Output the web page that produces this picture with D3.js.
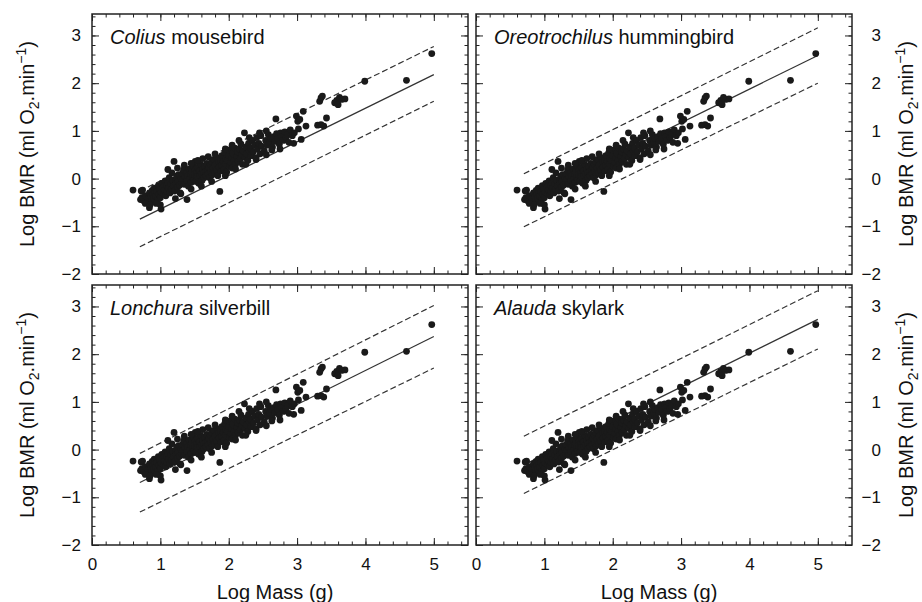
<!DOCTYPE html>
<html>
<head>
<meta charset="utf-8">
<script src="https://cdn.jsdelivr.net/npm/d3@7"></script>
<style>
  body { margin: 0; background: #fff; }
  text { font-family: "Liberation Sans", Arial, Helvetica, sans-serif; fill: #111; }
</style>
</head>
<body>
<svg id="chart"></svg>
<script>
// panel labels
const genus = ["Colius", "Oreotrochilus", "Lonchura", "Alauda"];
const common = ["mousebird", "hummingbird", "silverbill", "skylark"];

// species data: [log mass (g), log BMR (ml O2/min)]
const speciesPoints = [
  [0.60,-0.24],[0.72,-0.26],[0.74,-0.24],
  [0.71,-0.44],[0.73,-0.40],[0.76,-0.47],[0.78,-0.36],[0.80,-0.50],[0.82,-0.42],[0.84,-0.61],
  [0.84,-0.30],[0.86,-0.38],[0.87,-0.46],[0.88,-0.25],[0.89,-0.33],[0.90,-0.41],[0.78,-0.52],[0.85,-0.55],
  [0.91,-0.20],[0.92,-0.30],[0.93,-0.37],[0.95,-0.27],[0.96,-0.45],[0.97,-0.15],[0.98,-0.33],
  [0.99,-0.22],[1.00,-0.40],[1.01,-0.28],[1.02,-0.10],[1.01,-0.64],[1.04,-0.18],[1.05,-0.32],
  [1.06,-0.24],[1.07,-0.05],[1.08,-0.36],[1.09,-0.14],[1.10,-0.27],[1.00,-0.55],[0.94,-0.52],
  [1.11,-0.08],[1.12,-0.20],[1.13,0.02],[1.14,-0.30],[1.15,-0.12],[1.16,-0.22],[1.17,0.12],
  [1.18,-0.04],[1.19,-0.16],[1.20,0.36],[1.21,-0.26],[1.22,-0.02],[1.23,-0.10],[1.24,0.05],
  [1.25,-0.18],[1.26,-0.06],[1.27,0.08],[1.28,-0.14],[1.29,-0.30],[1.30,0.00],[1.11,0.19],[1.22,-0.42],
  [1.25,0.22],[1.30,-0.32],[1.35,0.28],
  [1.31,-0.08],[1.32,0.10],[1.33,-0.02],[1.34,0.18],[1.35,-0.12],[1.36,0.04],[1.39,-0.44],
  [1.38,0.12],[1.39,-0.04],[1.40,0.06],[1.41,-0.16],[1.42,0.20],[1.43,0.00],[1.44,0.10],
  [1.45,-0.08],[1.46,0.14],[1.47,0.02],[1.48,0.26],[1.49,-0.02],[1.50,0.08],[1.51,0.36],
  [1.45,0.32],[1.45,-0.22],
  [1.51,0.18],[1.52,-0.06],[1.53,0.12],[1.54,0.04],[1.55,0.24],[1.56,-0.10],[1.57,0.16],
  [1.58,0.06],[1.59,0.30],[1.60,0.10],[1.61,-0.04],[1.62,0.20],[1.63,0.12],[1.64,0.02],
  [1.65,0.26],[1.66,0.14],[1.67,0.06],[1.68,0.32],[1.69,0.18],[1.70,0.10],
  [1.55,0.38],[1.62,0.42],[1.60,-0.16],[1.70,0.46],
  [1.71,0.24],[1.72,0.02],[1.73,0.30],[1.74,0.16],[1.75,0.36],[1.76,0.08],[1.77,0.22],
  [1.78,0.40],[1.79,0.12],[1.80,0.28],[1.82,0.18],[1.83,0.44],[1.84,0.06],[1.85,0.34],
  [1.86,0.24],[1.87,-0.27],[1.88,0.38],[1.89,0.16],[1.90,0.48],[1.90,0.28],
  [1.75,-0.06],[1.80,0.52],
  [1.92,0.36],[1.93,0.20],[1.94,0.54],[1.95,0.30],[1.96,0.42],[1.97,0.14],[1.98,0.38],
  [2.00,0.48],[2.01,0.26],[2.02,0.60],[2.03,0.34],[2.04,0.44],[2.05,0.22],[2.06,0.52],
  [2.08,0.38],[2.09,0.64],[2.10,0.30],[1.95,0.62],[1.95,0.06],[2.05,0.70],[2.10,0.20],
  [2.12,0.46],[2.13,0.56],[2.14,0.36],[2.16,0.62],[2.17,0.42],[2.18,0.72],[2.19,0.50],
  [2.20,0.30],[2.21,0.58],[2.23,0.96],[2.24,0.44],[2.25,0.66],[2.26,0.52],[2.28,0.38],
  [2.29,0.74],[2.30,0.58],[2.15,0.80],[2.25,0.30],[2.30,0.86],
  [2.32,0.64],[2.33,0.48],[2.35,0.80],[2.36,0.56],[2.38,0.70],[2.40,0.44],[2.41,0.86],
  [2.42,0.62],[2.44,0.74],[2.46,0.52],[2.47,0.90],[2.48,0.68],[2.40,0.40],[2.45,0.96],
  [2.52,0.58],[2.54,0.80],[2.56,0.70],[2.58,0.92],[2.60,0.76],[2.62,0.84],[2.64,0.66],
  [2.66,0.88],[2.68,0.78],[2.69,1.25],[2.70,0.94],[2.63,0.60],[2.55,1.00],[2.55,0.50],
  [2.72,0.84],[2.74,0.72],[2.76,0.96],[2.78,0.88],[2.80,0.80],[2.82,0.98],[2.84,0.86],
  [2.86,0.92],[2.88,0.76],[2.90,1.02],[2.93,0.90],[2.96,0.96],[2.99,1.31],[3.01,1.20],
  [3.02,1.04],[3.06,0.82],[3.09,1.41],[3.13,1.10],[3.04,1.24],[2.75,0.62],[2.95,0.74],
  [3.35,1.69],[3.37,1.73],[3.33,1.62],[3.35,1.13],[3.39,1.10],[3.43,1.27],[3.30,1.12],
  [3.55,1.59],[3.58,1.64],[3.60,1.55],[3.65,1.66],[3.70,1.67],[3.62,1.70],
  [3.99,2.04],[4.60,2.06],[4.97,2.62]
];

// regression line and prediction limits for each panel (x from lineX[0] to lineX[1])
const lineX = [0.7, 5.0];
const fitY = [[-0.85, 2.18], [-0.45, 2.58], [-0.69, 2.37], [-0.32, 2.73]];
const upperY = [[-0.26, 2.77], [0.10, 3.16], [-0.08, 3.02], [0.28, 3.33]];
const lowerY = [[-1.43, 1.62], [-1.01, 2.00], [-1.31, 1.71], [-0.92, 2.11]];

const majorX = [0, 1, 2, 3, 4, 5];
const majorY = [-2, -1, 0, 1, 2, 3];

const W = 922, H = 602;
const panelW = 376, panelH = 260;
const origins = [[92, 14], [476, 14], [92, 285], [476, 285]];

const svg = d3.select("#chart").attr("width", W).attr("height", H);

const xScale = d3.scaleLinear().domain([0, 5.5]).range([0, panelW]);
const yScale = d3.scaleLinear().domain([-2, 3.45]).range([panelH, 0]);

const minorX = d3.range(0, 5.45, 0.2);
const minorY = d3.range(-2, 3.45, 0.2);

const line = d3.line().x(d => xScale(d[0])).y(d => yScale(d[1]));

origins.forEach((o, i) => {
  const g = svg.append("g").attr("transform", `translate(${o[0]},${o[1]})`);
  const isLeft = i % 2 === 0, isBottom = i >= 2;

  // inward ticks on all four sides
  const addAxis = (axisFn, scale, vals, size, tr, labels) => {
    const ax = g.append("g").attr("transform", tr)
      .call(axisFn(scale).tickValues(vals).tickSizeInner(size).tickSizeOuter(0)
        .tickPadding(labels ? 11 : 0).tickFormat(labels ? d3.format("d") : ""));
    ax.select(".domain").remove();
    ax.selectAll(".tick line").attr("stroke", "#222").attr("stroke-width", 1);
    ax.selectAll("text").attr("font-size", 17).attr("fill", "#111");
    return ax;
  };

  addAxis(d3.axisBottom, xScale, minorX, -3.5, `translate(0,${panelH})`, false);
  addAxis(d3.axisBottom, xScale, majorX, -7, `translate(0,${panelH})`, isBottom)
    .selectAll("text").attr("dy", "0.85em");
  addAxis(d3.axisTop, xScale, minorX, -3.5, "translate(0,0)", false);
  addAxis(d3.axisTop, xScale, majorX, -7, "translate(0,0)", false);
  addAxis(d3.axisLeft, yScale, minorY, -3.5, "translate(0,0)", false);
  addAxis(d3.axisLeft, yScale, majorY, -7, "translate(0,0)", isLeft);
  addAxis(d3.axisRight, yScale, minorY, -3.5, `translate(${panelW},0)`, false);
  const rightAx = addAxis(d3.axisRight, yScale, majorY, -7, `translate(${panelW},0)`, !isLeft);
  if (!isLeft) {
    rightAx.selectAll("text").attr("text-anchor", "end").attr("x", 29);
  }

  // fitted line and prediction limits
  const seg = ys => [[lineX[0], ys[0]], [lineX[1], ys[1]]];
  g.append("path").attr("d", line(seg(fitY[i])))
    .attr("fill", "none").attr("stroke", "#333").attr("stroke-width", 1.2);
  [upperY[i], lowerY[i]].forEach(ys => {
    g.append("path").attr("d", line(seg(ys)))
      .attr("fill", "none").attr("stroke", "#333").attr("stroke-width", 1.2)
      .attr("stroke-dasharray", "6,3");
  });

  // points
  g.selectAll(".dot")
    .data(speciesPoints)
    .join("circle")
    .attr("class", "dot")
    .attr("cx", d => xScale(d[0]))
    .attr("cy", d => yScale(d[1]))
    .attr("r", 3.4)
    .attr("fill", "#1a1a1a");

  // frame
  g.append("rect").attr("width", panelW).attr("height", panelH)
    .attr("fill", "none").attr("stroke", "#222").attr("stroke-width", 1.5);

  // panel label
  const t = g.append("text").attr("x", 18).attr("y", 30).attr("font-size", 20);
  t.append("tspan").attr("font-style", "italic").text(genus[i]);
  t.append("tspan").text(" " + common[i]);

  // axis titles
  if (isBottom) {
    svg.append("text")
      .attr("x", o[0] + panelW / 2 - 5).attr("y", 599)
      .attr("text-anchor", "middle").attr("font-size", 20)
      .text("Log Mass (g)");
  }
  const yx = isLeft ? 27 : 906;
  const yt = svg.append("text")
    .attr("transform", `translate(${yx},${o[1] + panelH / 2}) rotate(-90)`)
    .attr("text-anchor", "middle").attr("dy", "0.35em").attr("font-size", 20);
  yt.append("tspan").text("Log BMR (ml O");
  yt.append("tspan").attr("font-size", 14).attr("dy", 5).text("2");
  yt.append("tspan").attr("dy", -5).text(".min");
  yt.append("tspan").attr("font-size", 14).attr("dy", -8).text("\u22121");
  yt.append("tspan").attr("dy", 8).text(")");
});
</script>
</body>
</html>
